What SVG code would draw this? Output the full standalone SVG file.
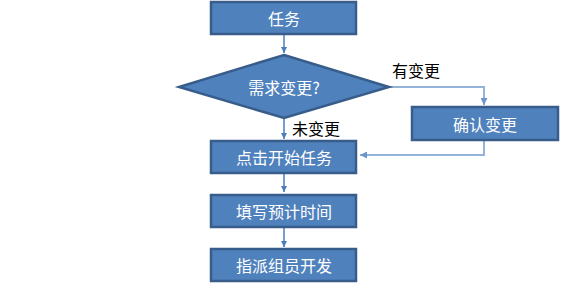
<svg xmlns="http://www.w3.org/2000/svg" width="576" height="290" viewBox="0 0 576 290">
<style>
.box{fill:#4F81BD;stroke:#385D8A;stroke-width:2.5}
.t{fill:#fff;font-family:"Microsoft YaHei","Noto Sans CJK SC",sans-serif;font-size:16px;text-anchor:middle;dominant-baseline:central}
.lbl{fill:#000;font-family:"Noto Sans CJK SC",sans-serif;font-size:16px}
.c{fill:none;stroke:#4A7EBB;stroke-width:1.5}
.cl{fill:none;stroke:#95B3D7;stroke-width:2}
</style>
<defs>
<marker id="a" viewBox="0 0 10 10" refX="10" refY="5" markerWidth="4" markerHeight="4" orient="auto" markerUnits="strokeWidth">
<path d="M0,0 L10,5 L0,10 z" fill="#4A7EBB"/>
</marker>
<marker id="al" viewBox="0 0 10 10" refX="10" refY="5" markerWidth="3.5" markerHeight="3.5" orient="auto" markerUnits="strokeWidth">
<path d="M0,0 L10,5 L0,10 z" fill="#6C95C9"/>
</marker>
</defs>
<g id="connectors">
<path class="c" d="M284,35 V53" marker-end="url(#a)"/>
<path class="c" d="M284,118 V139" marker-end="url(#a)"/>
<path class="c" d="M284,173 V192" marker-end="url(#a)"/>
<path class="c" d="M284,227 V247" marker-end="url(#a)"/>
<path class="cl" d="M388,87 H484 V105" marker-end="url(#al)"/>
<path class="cl" d="M484,141 V155 H360" marker-end="url(#al)"/>
</g>
<g id="n1"><rect class="box" x="211" y="2" width="145" height="32"/><text class="t" x="284" y="18">任务</text></g>
<g id="n2"><polygon class="box" points="284,55 389,87 284,118 179,87"/><text class="t" x="284" y="87">需求变更?</text></g>
<g id="n3"><rect class="box" x="412" y="107" width="146" height="33"/><text class="t" x="485" y="124">确认变更</text></g>
<g id="n4"><rect class="box" x="211" y="141" width="145" height="32"/><text class="t" x="284" y="157">点击开始任务</text></g>
<g id="n5"><rect class="box" x="211" y="195" width="145" height="32"/><text class="t" x="284" y="211">填写预计时间</text></g>
<g id="n6"><rect class="box" x="211" y="249" width="145" height="32"/><text class="t" x="284" y="265">指派组员开发</text></g>
<text class="lbl" x="392" y="77">有变更</text>
<text class="lbl" x="292" y="135">未变更</text>
</svg>
